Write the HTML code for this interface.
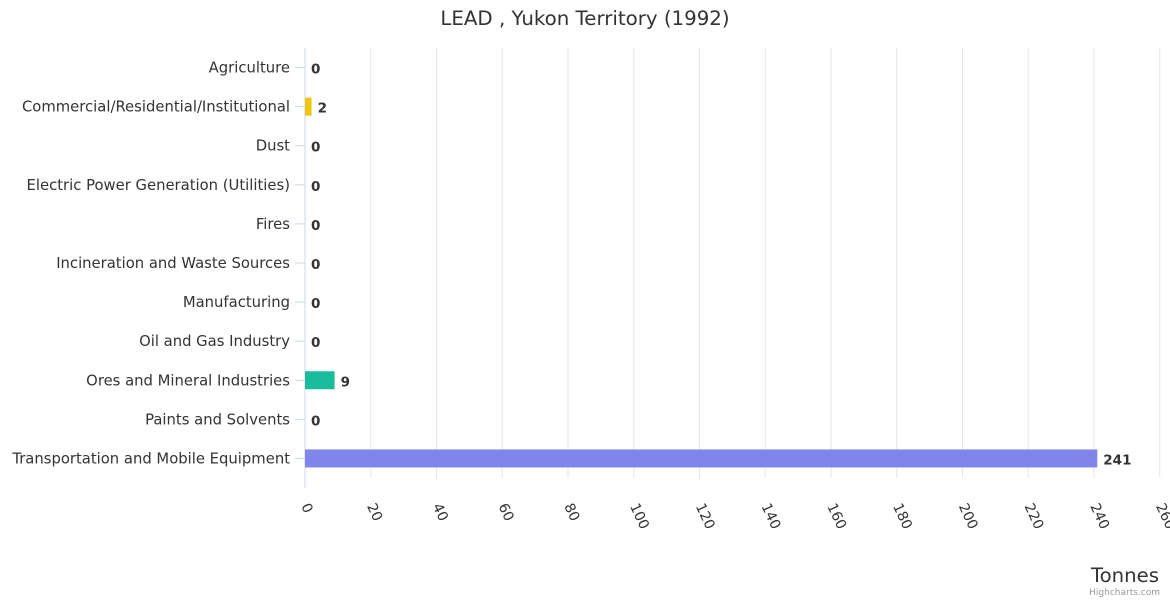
<!DOCTYPE html>
<html><head><meta charset="utf-8"><style>
body{margin:0;background:#fff;font-family:"DejaVu Sans",sans-serif}
text{font-family:"DejaVu Sans",sans-serif}
</style></head><body>
<svg id="c" width="1170" height="600" xmlns="http://www.w3.org/2000/svg">
<text x="585" y="25" text-anchor="middle" font-size="19.8" fill="#333">LEAD , Yukon Territory (1992)</text>
<g id="grid"></g><g id="bars"></g><g id="ylab"></g><g id="xlab"></g>
<text x="1159" y="582" text-anchor="end" font-size="19.7" fill="#333">Tonnes</text>
<text x="1160" y="595" text-anchor="end" font-size="9" fill="#999">Highcharts.com</text>
</svg>
<script>
const categories=["Agriculture","Commercial/Residential/Institutional","Dust","Electric Power Generation (Utilities)","Fires","Incineration and Waste Sources","Manufacturing","Oil and Gas Industry","Ores and Mineral Industries","Paints and Solvents","Transportation and Mobile Equipment"];
const values=[0,2,0,0,0,0,0,0,9,0,241];
const colors=["#7cb5ec","#f1c40f","#7cb5ec","#7cb5ec","#7cb5ec","#7cb5ec","#7cb5ec","#7cb5ec","#1abc9c","#7cb5ec","#7f85e9"];
const ticks=[0,20,40,60,80,100,120,140,160,180,200,220,240,260];
const NS="http://www.w3.org/2000/svg";
const X0=305,X1=1159.75,XMAX=260,TOP=48,BOT=478;
const xs=v=>X0+v/XMAX*(X1-X0);
const band=(BOT-TOP)/categories.length;
const yc=i=>TOP+band*(i+0.5);
function mk(t,a,p){const e=document.createElementNS(NS,t);for(const k in a)e.setAttribute(k,a[k]);p.appendChild(e);return e;}
const grid=document.getElementById('grid'),bars=document.getElementById('bars'),ylab=document.getElementById('ylab'),xlab=document.getElementById('xlab');
ticks.forEach(t=>{
 const l=mk('line',{x1:xs(t),x2:xs(t),y1:TOP,y2:t===0?BOT+10:BOT,stroke:t===0?'#ccd6eb':'#e6e6e6','stroke-width':1},grid);
 
 
 const x=xs(t),y=506;
 const tx=mk('text',{x:x-4,y:y,'font-size':14,fill:'#333',transform:`rotate(65 ${x-4} ${y})`},xlab);
 tx.textContent=t;
 
 
});
categories.forEach((c,i)=>{
 const y=yc(i);
 const tk=mk('line',{x1:X0-10,x2:X0,y1:y,y2:y,stroke:'#ccd6eb'},grid);
 
 
 const t=mk('text',{x:290,y:y+5,'text-anchor':'end','font-size':14.8,fill:'#333'},ylab);
 t.textContent=c;
 
 
 const w=xs(values[i])-X0;
 if(values[i]>0){
  const r=mk('rect',{x:X0,y:y-9,width:w,height:18,fill:colors[i]},bars);
  
  
 }
 const v=mk('text',{x:X0+w+6,y:y+6,'font-size':13.5,'font-weight':'bold',fill:'#333'},bars);
 v.textContent=values[i];
 
 
});
</script>
</body></html>
